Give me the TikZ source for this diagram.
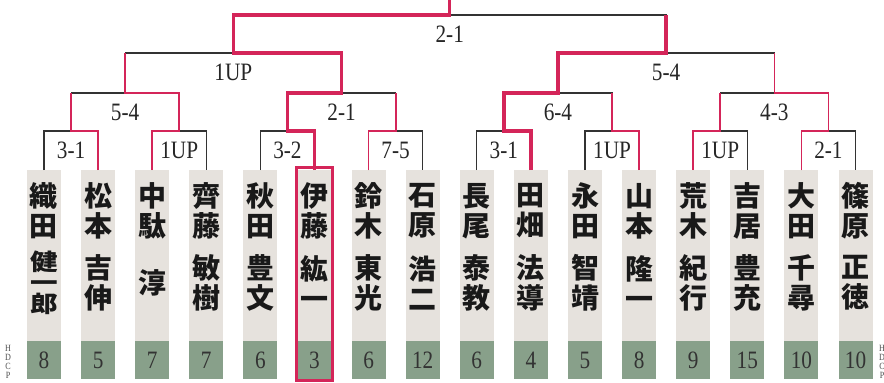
\documentclass[tikz,border=0pt]{standalone}
\usepackage{fontspec}
\usepackage{tikz}
\usetikzlibrary{positioning}
\newfontfamily\cjk{Noto Sans CJK JP}
\newfontfamily\cjkwide[FakeStretch=1.2]{Noto Sans CJK JP}
\newfontfamily\numfont[FakeStretch=0.85]{Liberation Serif}
\definecolor{winred}{HTML}{D42559}
\definecolor{colgrey}{HTML}{E6E2DD}
\definecolor{hdgreen}{HTML}{88A08A}
\definecolor{linegrey}{HTML}{333333}

\begin{document}
\begin{tikzpicture}[x=1pt,y=-1pt,
    namecol/.style={fill=colgrey,minimum width=34pt,minimum height=171pt,inner sep=0pt,outer sep=0pt},
    hdbox/.style={fill=hdgreen,minimum width=34pt,minimum height=38pt,inner sep=0pt,outer sep=0pt,text=black!80,font=\numfont\fontsize{25}{25}\selectfont},
    jname/.style={inner sep=0pt,align=center,text=black!90},
    score/.style={inner sep=0pt,text=black!85,font=\numfont\fontsize{25}{25}\selectfont},
    hdcp/.style={inner sep=0pt,align=center,text=black!70,font=\numfont\fontsize{9.5}{9}\selectfont},
    bk/.style={draw=linegrey,line width=1.1pt},
    win/.style={draw=winred,line width=1.7pt},
    final/.style={draw=winred,line width=3.4pt}]
  \useasboundingbox (0,0) rectangle (884,383);

  % players: family / given / font / skip / hdcp
  \foreach \fn/\gn/\gf/\sk/\hd [count=\i from 0] in {
      織\\田/健\\一\\郎/\cjkwide\fontsize{23}{21}/21/8, 松\\本/吉\\伸/\cjk/30/5, 中\\駄/淳/\cjk/30/7, 齊\\藤/敏\\樹/\cjk/30/7,
      秋\\田/豊\\文/\cjk/30/6, 伊\\藤/紘\\一/\cjk/30/3, 鈴\\木/東\\光/\cjk/30/6, 石\\原/浩\\二/\cjk/30/12,
      長\\尾/泰\\教/\cjk/30/6, 田\\畑/法\\導/\cjk/30/4, 永\\田/智\\靖/\cjk/30/5, 山\\本/隆\\一/\cjk/30/8,
      荒\\木/紀\\行/\cjk/30/9, 吉\\居/豊\\充/\cjk/30/15, 大\\田/千\\尋/\cjk/30/10, 篠\\原/正\\徳/\cjk/30/10}{
    \node[namecol] (p\i) at (44+54.1*\i,255.5) {};
    \node[hdbox] (h\i) at (44+54.1*\i,360) {\hd};
    \node[jname,font=\cjk\bfseries\fontsize{28}{30}\selectfont,yshift=-41pt] (f\i) at (p\i.north) {\fn};
    \node[jname,font=\cjk\bfseries\fontsize{28}{\sk}\gf\selectfont,yshift=-113pt] (g\i) at (p\i.north) {\gn};
  }
  \node[hdcp] (hl) at (8,362) {H\\D\\C\\P};
  \node[hdcp] (hr) at (882,362) {H\\D\\C\\P};

  % match points
  \foreach \i in {0,...,7} \coordinate (a\i) at (71.05+108.2*\i,131);
  \foreach \i in {0,...,3} \coordinate (b\i) at (125.15+216.4*\i,93);
  \foreach \i in {0,1} \coordinate (c\i) at (233.35+432.8*\i,53);
  \coordinate (d0) at (449.75,15);
  \coordinate (top) at (449.75,0);

  % brackets
  \foreach \l/\r/\m in {p0.north/p1.north/a0, p2.north/p3.north/a1, p4.north/p5.north/a2,
      p6.north/p7.north/a3, p8.north/p9.north/a4, p10.north/p11.north/a5,
      p12.north/p13.north/a6, p14.north/p15.north/a7,
      a0/a1/b0, a2/a3/b1, a4/a5/b2, a6/a7/b3, b0/b1/c0, b2/b3/c1, c0/c1/d0}
    \draw[bk] (\l) |- (\m) -| (\r);

  % winners
  \draw[win] (p1.north) |- (a0) -- (a0 |- b0);
  \draw[win] (p2.north) |- (a1) |- (b0) -- (b0 |- c0);
  \draw[win] (p6.north) |- (a3) -- (a3 |- b1);
  \draw[win] (p11.north) |- (a5) -- (a5 |- b2);
  \draw[win] (p12.north) |- (a6) -- (a6 |- b3);
  \draw[win] (p14.north) |- (a7) |- (b3) -- (b3 |- c1);
  \draw[final] (p9.north) |- (a4) |- (b2) |- (c1) -- (c1 |- d0);
  \draw[final] (p5.north) |- (a2) |- (b1) |- (c0) |- (d0) -- (top);
  \draw[winred,line width=3pt] ([shift={(-1,-2.5)}]p5.north west) rectangle ([shift={(1,1.5)}]h5.south east);

  % scores
  \foreach \m/\s in {a0/3-1, a1/1UP, a2/3-2, a3/7-5, a4/3-1, a5/1UP, a6/1UP, a7/2-1,
      b0/5-4, b1/2-1, b2/6-4, b3/4-3, c0/1UP, c1/5-4, d0/2-1}
    \node[score,below=11pt of \m] (s\m) {\s};
\end{tikzpicture}
\end{document}
